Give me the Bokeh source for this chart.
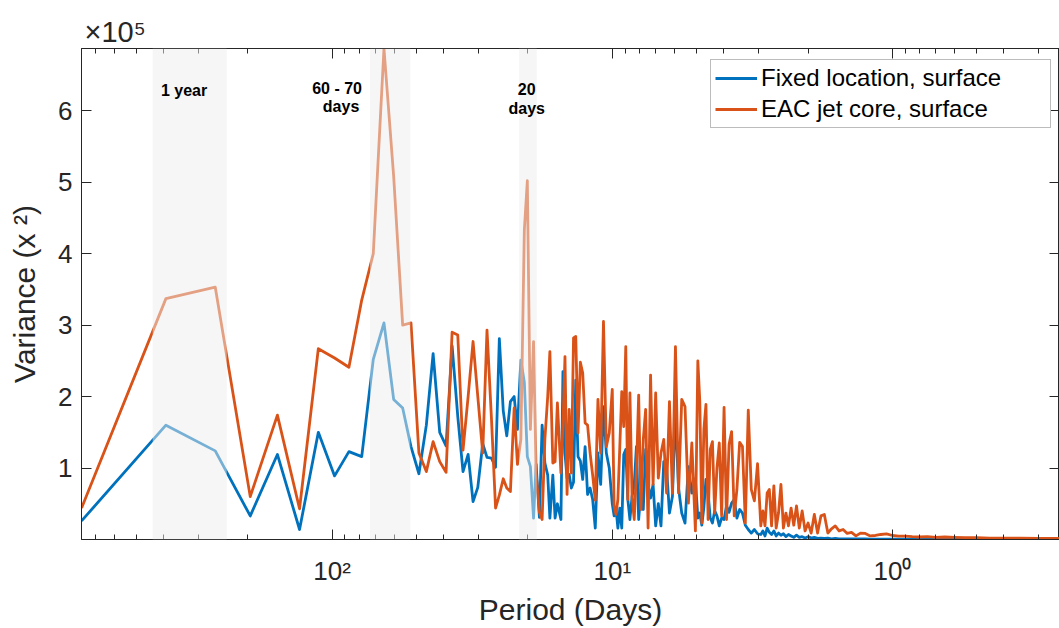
from bokeh.plotting import figure
from bokeh.models import (Range1d, FixedTicker, LogAxis, LinearAxis, Label,
                          BoxAnnotation, Legend, LegendItem, ColumnDataSource)
from bokeh.embed import file_html
from bokeh.resources import INLINE

# ---------------- data (variance in units of 1e5) ----------------
period_days = [
    784.0, 392.0, 261.3, 196.0, 156.8, 130.7, 112.0, 98.0, 87.1, 78.4,
    71.3, 65.3, 60.3, 56.0, 52.3, 49.0, 46.1, 43.6, 41.3, 39.2,
    37.3, 35.6, 34.1, 32.7, 31.4, 30.2, 29.0, 28.0, 27.0, 26.1,
    25.3, 24.5, 23.8, 23.1, 22.4, 21.8, 21.2, 20.6, 20.1, 19.6,
    19.1, 18.7, 18.2, 17.8, 17.4, 17.0, 16.7, 16.3, 16.0, 15.7,
    15.25, 15.0, 14.75, 14.5, 14.25, 14.0, 13.75, 13.5, 13.25, 13.0,
    12.75, 12.5, 12.25, 12.0, 11.75, 11.5, 11.25, 11.0, 10.75, 10.5,
    10.25, 10.0,
    9.85, 9.7, 9.55, 9.4, 9.25, 9.1, 8.95, 8.8, 8.65, 8.5,
    8.35, 8.2, 8.05, 7.9, 7.75, 7.6, 7.45, 7.3, 7.15, 7.0,
    6.85, 6.7, 6.55, 6.4, 6.25, 6.1, 5.95, 5.8, 5.65, 5.5,
    5.35, 5.2, 5.05,
    4.95, 4.87, 4.79, 4.71, 4.63, 4.55, 4.47, 4.39, 4.31, 4.23,
    4.15, 4.07, 3.99, 3.91, 3.83, 3.75, 3.67, 3.59, 3.51, 3.43,
    3.35, 3.27, 3.19, 3.11, 3.03,
    2.95, 2.9, 2.85, 2.8, 2.75, 2.7, 2.65, 2.6, 2.55, 2.5,
    2.45, 2.4, 2.35, 2.3, 2.25, 2.2, 2.15, 2.1, 2.05, 2.0,
    1.95, 1.9, 1.85, 1.8, 1.75, 1.7, 1.65, 1.6, 1.55, 1.5,
    1.45, 1.4, 1.35, 1.3, 1.25, 1.2, 1.15, 1.1, 1.05, 1.0,
    0.95, 0.9, 0.85, 0.8, 0.75, 0.7, 0.65, 0.6, 0.55, 0.5,
    0.45, 0.4, 0.35, 0.3, 0.25,
]

fixed_location_var = [
    0.26, 1.60, 1.24, 0.33, 1.19, 0.14, 1.50, 0.89, 1.23, 1.16,
    2.52, 3.03, 1.96, 1.84, 1.30, 0.92, 1.60, 2.60, 1.50, 1.31,
    2.71, 1.72, 0.95, 1.19, 0.53, 0.73, 1.34, 1.15, 1.14, 1.01,
    2.81, 1.80, 1.45, 1.93, 2.00, 1.54, 2.51, 2.20, 1.16, 1.02,
    0.30, 1.05, 0.31, 1.60, 1.07, 0.90, 0.30, 0.90, 0.30, 0.50,
    0.28, 2.35, 1.20, 0.86, 0.91, 0.72, 0.80, 2.23, 1.16, 1.10,
    0.84, 1.30, 0.63, 0.72, 0.56, 0.16, 1.21, 0.77, 1.86, 1.21,
    1.00, 0.50,
    0.33, 0.44, 0.16, 0.44, 0.16, 1.19, 1.26, 0.56, 0.28, 0.60,
    0.77, 1.30, 0.28, 0.70, 0.42, 1.26, 0.77, 0.58, 0.77, 0.19,
    0.50, 0.19, 1.09, 1.00, 0.37, 0.60, 1.77, 0.72, 0.37, 0.23,
    1.02, 0.65, 0.85,
    0.30, 0.37, 0.20, 0.45, 0.84, 0.65, 0.30, 0.23, 0.40, 0.33,
    0.19, 0.30, 0.28, 0.47, 0.38, 0.51, 0.56, 0.30, 0.42, 0.37,
    0.20, 0.14, 0.09, 0.14, 0.08,
    0.07, 0.12, 0.05, 0.16, 0.10, 0.07, 0.12, 0.05, 0.09, 0.06,
    0.08, 0.04, 0.07, 0.05, 0.03, 0.06, 0.03, 0.04, 0.02, 0.04,
    0.02, 0.03, 0.015, 0.02, 0.015, 0.02, 0.01, 0.015, 0.01, 0.01,
    0.01, 0.008, 0.01, 0.008, 0.007, 0.006, 0.006, 0.005, 0.005, 0.005,
    0.004, 0.004, 0.004, 0.003, 0.003, 0.003, 0.003, 0.002, 0.002, 0.002,
    0.002, 0.002, 0.002, 0.002, 0.002,
]

eac_jet_core_var = [
    0.44, 3.37, 3.53, 0.60, 1.74, 0.43, 2.67, 2.54, 2.41, 3.35,
    4.00, 6.87, 5.08, 3.00, 3.03, 1.21, 0.95, 1.37, 1.09, 0.94,
    2.90, 2.86, 1.25, 2.00, 2.77, 2.00, 1.21, 2.93, 1.70, 0.44,
    0.62, 0.85, 0.72, 0.67, 1.84, 1.05, 1.40, 4.33, 5.02, 1.54,
    2.77, 0.93, 0.38, 0.28, 1.40, 2.00, 2.63, 1.07, 1.09, 1.91,
    0.93, 1.60, 2.56, 0.63, 1.82, 0.93, 2.82, 2.84, 1.49, 2.48,
    2.33, 1.63, 1.60, 1.21, 0.90, 0.55, 1.96, 1.21, 3.05, 1.30,
    1.49, 2.10,
    0.47, 0.35, 0.56, 1.30, 2.07, 1.58, 2.70, 0.56, 2.05, 0.60,
    0.28, 0.95, 2.02, 0.42, 1.40, 1.82, 0.16, 2.30, 0.77, 2.05,
    0.86, 1.21, 1.40, 0.65, 1.93, 0.65, 2.70, 0.65, 1.96, 1.86,
    0.51, 1.35, 0.12,
    2.50, 1.93, 0.23, 1.54, 1.89, 0.28, 1.26, 1.37, 0.37, 1.00,
    1.35, 0.33, 1.85, 0.28, 1.33, 1.51, 0.33, 0.70, 1.36, 1.30,
    0.23, 1.81, 0.70, 0.54, 1.06,
    0.19, 0.40, 0.19, 0.65, 0.70, 0.19, 0.75, 0.16, 0.37, 0.77,
    0.16, 0.37, 0.19, 0.44, 0.20, 0.47, 0.16, 0.40, 0.12, 0.23,
    0.09, 0.35, 0.09, 0.33, 0.35, 0.09, 0.15, 0.19, 0.12, 0.14,
    0.085, 0.10, 0.05, 0.09, 0.085, 0.05, 0.056, 0.07, 0.08, 0.056,
    0.047, 0.047, 0.04, 0.035, 0.04, 0.03, 0.035, 0.03, 0.025, 0.025,
    0.02, 0.02, 0.018, 0.015, 0.015,
]

series_names = ["Fixed location, surface", "EAC jet core, surface"]

# shaded period bands (days)
band_start_days = [437.0, 73.2, 21.5]
band_end_days = [237.8, 52.6, 18.6]

y_ticks = [1, 2, 3, 4, 5, 6]
x_major_ticks = [1, 10, 100]
x_tick_labels = {1: "10⁰", 10: "10¹", 100: "10²"}

# ---------------- figure ----------------
FONT = "Liberation Sans"
DARK = "#262626"

p = figure(width=1059, height=628, x_axis_type="log",
           x_range=Range1d(784.5, 0.2533), y_range=Range1d(0, 6.87),
           output_backend="svg", toolbar_location=None,
           min_border_left=81, min_border_right=0,
           min_border_top=48, min_border_bottom=88,
           title="×10⁵")
p.background_fill_color = "white"
p.border_fill_color = "white"
p.outline_line_color = DARK
p.grid.visible = False
p.title.align = "left"
p.title.offset = 3
p.title.text_font = FONT
p.title.text_font_size = "29px"
p.title.text_font_style = "normal"
p.title.text_color = DARK
p.title.standoff = 2

src = ColumnDataSource(dict(period=period_days, fixed=fixed_location_var,
                            eac=eac_jet_core_var))
r1 = p.line("period", "fixed", source=src, line_color="#0072BD",
            line_width=2.8, line_join="round")
r2 = p.line("period", "eac", source=src, line_color="#D95319",
            line_width=2.8, line_join="round")

for a, b in zip(band_start_days, band_end_days):
    p.add_layout(BoxAnnotation(left=a, right=b, fill_color="#EEEEEE",
                               fill_alpha=0.5, line_color=None))

minor = [m * 10 ** e for e in range(-1, 3) for m in range(2, 10)]

xa = p.xaxis[0]
xa.ticker = FixedTicker(ticks=x_major_ticks, minor_ticks=minor)
xa.major_label_overrides = x_tick_labels
xa.axis_label = "Period (Days)"
ya = p.yaxis[0]
ya.ticker = FixedTicker(ticks=y_ticks)
ya.axis_label = "Variance (x ²)"

for ax in (xa, ya):
    ax.major_tick_in = 10
    ax.major_tick_out = 0
    ax.minor_tick_in = 5
    ax.minor_tick_out = 0
    ax.axis_line_color = DARK
    ax.major_tick_line_color = DARK
    ax.minor_tick_line_color = DARK
    ax.major_label_text_font = FONT
    ax.major_label_text_font_size = "26px"
    ax.major_label_text_color = DARK
    ax.axis_label_text_font = FONT
    ax.axis_label_text_font_size = "30px"
    ax.axis_label_text_font_style = "normal"
    ax.axis_label_text_color = DARK
ya.minor_tick_in = 0
xa.major_label_standoff = 16
xa.axis_label_standoff = 4
ya.major_label_standoff = 9
ya.axis_label_standoff = 14

top = LogAxis(ticker=FixedTicker(ticks=x_major_ticks, minor_ticks=minor),
              major_tick_in=10, major_tick_out=0, minor_tick_in=5,
              minor_tick_out=0, major_label_text_font_size="1px",
              major_label_text_color=None,
              major_label_standoff=0, axis_line_color=DARK,
              major_tick_line_color=DARK, minor_tick_line_color=DARK)
p.add_layout(top, "above")
right = LinearAxis(ticker=FixedTicker(ticks=y_ticks), major_tick_in=10,
                   major_tick_out=0, minor_tick_in=0, minor_tick_out=0,
                   major_label_text_font_size="1px",
                   major_label_text_color=None, major_label_standoff=0,
                   axis_line_color=DARK, major_tick_line_color=DARK)
p.add_layout(right, "right")

# band labels
band_labels = [("1 year", 337.8, 6.285), ("60 - 70", 96.0, 6.306),
               ("days", 92.9, 6.061), ("20", 20.2, 6.30), ("days", 20.2, 6.03)]
for txt, xx, yy in band_labels:
    p.add_layout(Label(x=xx, y=yy, text=txt, text_font=FONT,
                       text_font_size="16px", text_font_style="bold",
                       text_align="center", text_baseline="middle",
                       text_color="black"))

legend = Legend(items=[LegendItem(label=series_names[0], renderers=[r1]),
                       LegendItem(label=series_names[1], renderers=[r2])],
                location=(629, 411))
legend.label_text_font = FONT
legend.label_text_font_size = "24px"
legend.label_text_color = "black"
legend.glyph_width = 42
legend.glyph_height = 24
legend.label_height = 24
legend.label_width = 285
legend.label_standoff = 4
legend.padding = 4
legend.spacing = 3
legend.margin = 0
legend.border_line_color = "#7a7a7a"
legend.border_line_width = 1
legend.background_fill_color = "white"
legend.background_fill_alpha = 1.0
p.add_layout(legend)

open("out.html", "w").write(file_html(p, INLINE))
